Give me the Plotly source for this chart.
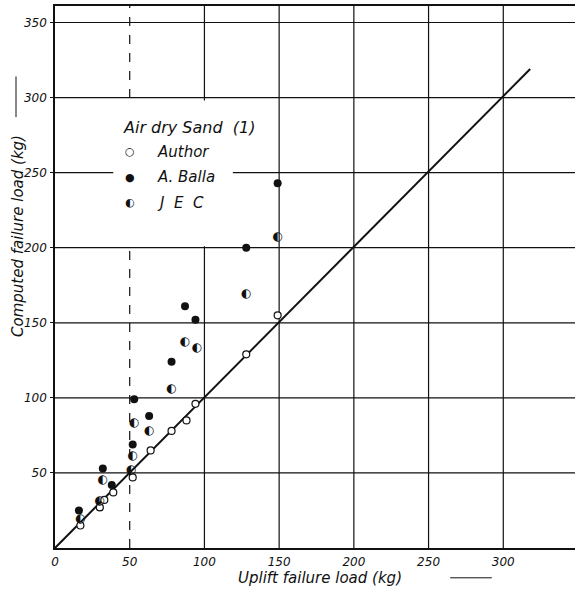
import plotly.graph_objects as go

# ---- data ----
author_x = [17, 30, 33, 39, 52, 64, 78, 88, 94, 128, 149]
author_y = [15, 27, 32, 37, 47, 65, 78, 85, 96, 129, 155]

balla_x = [16, 32, 38, 52, 53, 63, 78, 87, 94, 128, 149]
balla_y = [25, 53, 42, 69, 99, 88, 124, 161, 152, 200, 243]

jec_x = [17, 30, 32, 51, 52, 53, 63, 78, 87, 95, 128, 149]
jec_y = [19, 31, 45, 52, 61, 83, 78, 106, 137, 133, 169, 207]

line_x = [0, 318]
line_y = [0, 319]

x_ticks = [0, 50, 100, 150, 200, 250, 300]
x_tick_text = ["0", "50", "100", "150", "200", "250", "300"]
y_ticks = [50, 100, 150, 200, 250, 300, 350]
y_tick_text = ["50", "100", "150", "200", "250", "300", "350"]

X_MAX = 348
Y_MAX = 361

legend_title = "Air dry Sand  (1)"
legend_items = [("○", "Author"), ("●", "A. Balla"), ("◐", "J  E  C")]

FONT = "DejaVu Sans"
INK = "#111111"

fig = go.Figure()

fig.add_trace(go.Scatter(x=line_x, y=line_y, mode="lines",
                         line=dict(color=INK, width=2), showlegend=False,
                         hoverinfo="skip"))
fig.add_trace(go.Scatter(x=author_x, y=author_y, mode="markers", name="Author",
                         marker=dict(symbol="circle", size=7, color="white",
                                     line=dict(color=INK, width=1.2)),
                         showlegend=False))
fig.add_trace(go.Scatter(x=balla_x, y=balla_y, mode="markers", name="A. Balla",
                         marker=dict(symbol="circle", size=8, color=INK,
                                     line=dict(color=INK, width=0)),
                         showlegend=False))
fig.add_trace(go.Scatter(x=jec_x, y=jec_y, mode="text", name="JEC",
                         text=["◐"] * len(jec_x), textposition="middle center",
                         textfont=dict(family=FONT, size=12, color=INK),
                         showlegend=False))

shapes = []
for yv in y_ticks:
    shapes.append(dict(type="line", xref="x", yref="y", x0=0, x1=X_MAX, y0=yv, y1=yv,
                       line=dict(color=INK, width=1.2), layer="between"))
for xv in x_ticks[1:]:
    shapes.append(dict(type="line", xref="x", yref="y", x0=xv, x1=xv, y0=0, y1=Y_MAX,
                       line=dict(color=INK, width=1.2,
                                 dash="dash" if xv == 50 else "solid"),
                       layer="between"))
shapes.append(dict(type="rect", xref="x", yref="y", x0=39, x1=119, y0=201, y1=298,
                   fillcolor="white", line=dict(width=0), layer="between"))
# arrow mark next to y title
shapes.append(dict(type="line", xref="paper", yref="paper", x0=-0.075, x1=-0.075,
                   y0=0.795, y1=0.87, line=dict(color=INK, width=1)))
# arrow mark after x title
shapes.append(dict(type="line", xref="paper", yref="paper", x0=0.76, x1=0.84,
                   y0=-0.055, y1=-0.055, line=dict(color=INK, width=1)))
fig.update_layout(shapes=shapes)

ann = []
ann.append(dict(text=legend_title, x=90, y=280, xref="x", yref="y", showarrow=False,
                font=dict(family=FONT, size=16, color=INK, style="italic")))
for i, (sym, lab) in enumerate(legend_items):
    yy = 264 - i * 17
    ann.append(dict(text=sym, x=50, y=yy, xref="x", yref="y", showarrow=False,
                    font=dict(family=FONT, size=11, color=INK)))
    ann.append(dict(text=lab, x=67, y=yy, xref="x", yref="y", showarrow=False,
                    xanchor="left",
                    font=dict(family=FONT, size=15, color=INK, style="italic")))
# axis titles
ann.append(dict(text="Uplift failure load (kg)", x=0.51, y=-0.055, xref="paper",
                yref="paper", showarrow=False, yanchor="middle",
                font=dict(family=FONT, size=15, color=INK, style="italic")))
ann.append(dict(text="Computed failure load (kg)", x=-0.07, y=0.575, xref="paper",
                yref="paper", showarrow=False, textangle=-90, xanchor="center",
                font=dict(family=FONT, size=15, color=INK, style="italic")))
fig.update_layout(annotations=ann)

fig.update_layout(
    width=575, height=592,
    margin=dict(l=55, r=0, t=6, b=44),
    paper_bgcolor="white", plot_bgcolor="white",
    font=dict(family=FONT, color=INK),
    xaxis=dict(range=[0, X_MAX], tickvals=x_ticks, ticktext=x_tick_text,
               showgrid=False, zeroline=False, showline=True, linecolor=INK,
               linewidth=1.5, mirror=True, ticks="", ticklabelstandoff=2,
               tickfont=dict(family=FONT, size=12, style="italic")),
    yaxis=dict(range=[0, Y_MAX], tickvals=y_ticks, ticktext=y_tick_text,
               showgrid=False, zeroline=False, showline=True, linecolor=INK,
               linewidth=1.5, ticks="outside", ticklen=3, tickcolor=INK,
               ticklabelstandoff=1,
               tickfont=dict(family=FONT, size=12, style="italic")),
)

fig.write_html("out.html")
